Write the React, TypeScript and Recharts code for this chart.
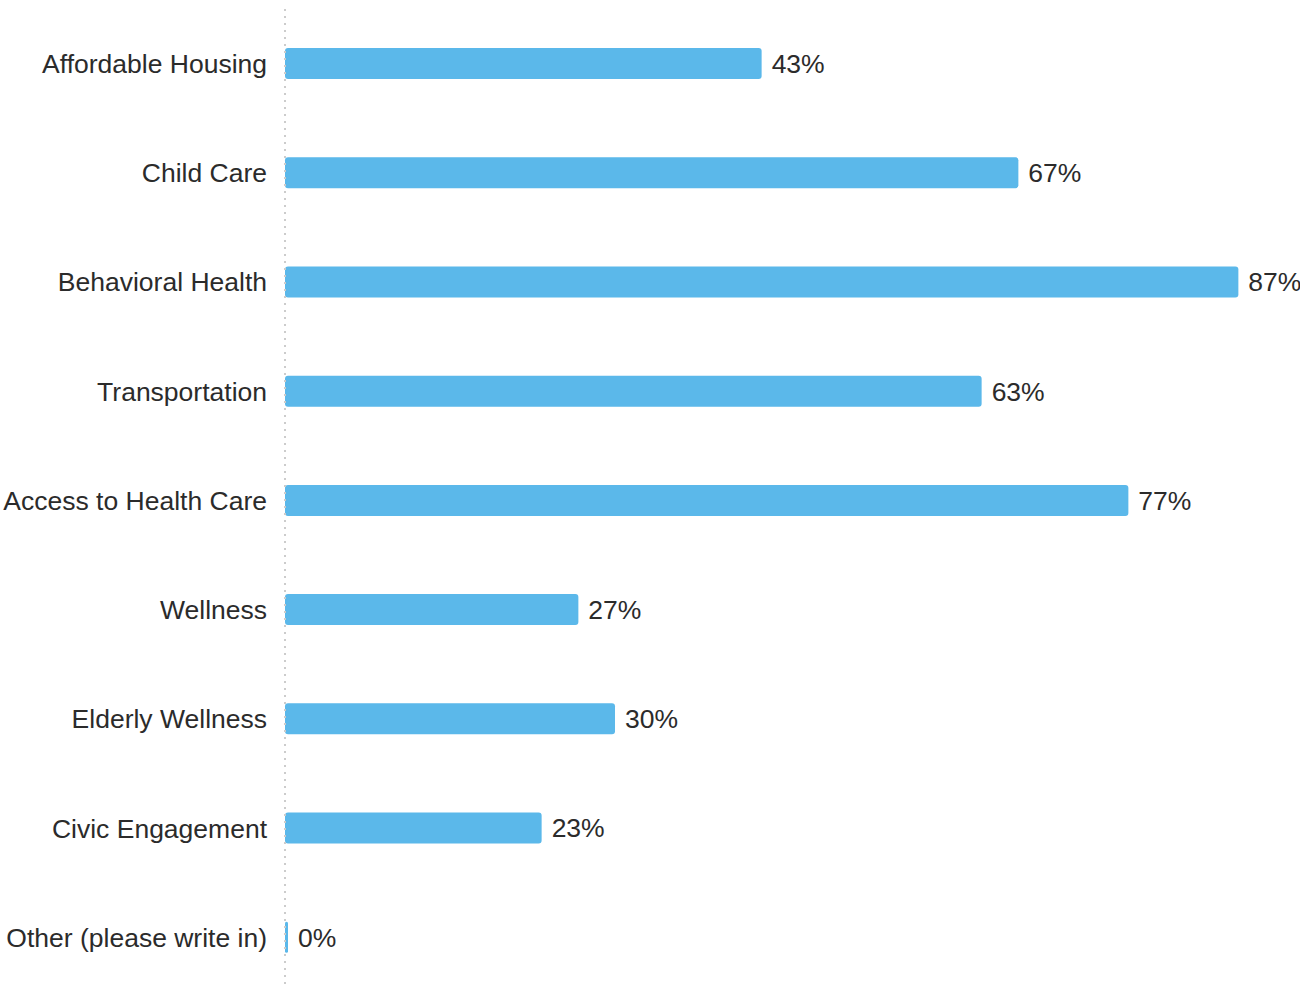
import { Bar, BarChart, XAxis, YAxis, LabelList } from 'recharts';

const categories = [
  'Affordable Housing',
  'Child Care',
  'Behavioral Health',
  'Transportation',
  'Access to Health Care',
  'Wellness',
  'Elderly Wellness',
  'Civic Engagement',
  'Other (please write in)',
];

// percent of respondents
const percents = [43.33, 66.67, 86.67, 63.33, 76.67, 26.67, 30, 23.33, 0];

const data = categories.map((name, i) => ({ name, value: percents[i] }));

const font = 'Liberation Sans, Arial, sans-serif';

const App = () => {
  return (
    <div style={{ position: 'absolute', left: 0, top: 0, width: 1300, height: 988, overflow: 'hidden', background: '#fff' }}>
      <BarChart
        width={1300}
        height={992}
        data={data}
        layout="vertical"
        margin={{ top: 9, right: 3, left: 0, bottom: 0 }}
        style={{ overflow: 'visible' }}
      >
        <XAxis type="number" domain={[0, 92]} hide />
        <YAxis
          type="category"
          dataKey="name"
          width={285}
          tickLine={false}
          tickSize={0}
          tickMargin={18}
          axisLine={{ stroke: '#cccccc', strokeDasharray: '2 5', strokeWidth: 2 }}
          tick={{ fill: '#2b2b2b', fontSize: 26.5, fontFamily: font }}
        />
        <Bar
          dataKey="value"
          fill="#5bb8ea"
          barSize={31}
          radius={[3, 3, 3, 3]}
          minPointSize={3}
          isAnimationActive={false}
        >
          <LabelList
            dataKey="value"
            position="right"
            offset={10}
            formatter={(v: number) => `${Math.round(v)}%`}
            style={{ fill: '#2b2b2b', fontSize: 26.5, fontFamily: font }}
          />
        </Bar>
      </BarChart>
    </div>
  );
};

export default App;
